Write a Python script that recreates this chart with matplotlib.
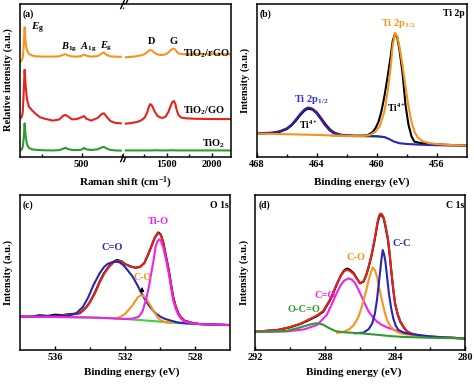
import matplotlib
matplotlib.use('Agg')
import matplotlib.pyplot as plt

plt.rcParams['font.family'] = ['Liberation Serif', 'DejaVu Serif']
plt.rcParams['font.weight'] = 'bold'
plt.rcParams['mathtext.fontset'] = 'custom'
plt.rcParams['mathtext.rm'] = 'Liberation Serif:bold'
plt.rcParams['mathtext.it'] = 'Liberation Serif:bold:italic'
plt.rcParams['mathtext.bf'] = 'Liberation Serif:bold'
plt.rcParams['axes.linewidth'] = 1.1

W, H = 474, 388

# ---------------- (a) Raman ----------------
ram_left_x = [115, 125, 132, 138, 144, 150, 158, 170, 190, 215, 240, 270, 320, 360, 385,
              399, 415, 440, 470, 500, 515, 530, 560, 600, 625, 639, 655, 680, 710, 745]
ram_left_tio2 = [4.5, 4.8, 6.5, 12, 22, 14, 8.5, 6.0, 5.0, 4.7, 4.5, 4.4, 4.3, 4.5, 5.4,
                 6.0, 5.2, 4.6, 4.5, 4.8, 5.9, 5.0, 4.6, 5.0, 6.2, 6.7, 5.6, 4.6, 4.3, 4.2]
ram_left_go = [25.3, 26, 29, 42, 57, 47, 38, 33, 30.5, 28, 26, 25, 23.8, 24.5, 27,
               27.5, 26.5, 24.6, 24.8, 26, 26.8, 25, 23.8, 25.5, 28, 28.6, 26.5, 23.5, 22.3, 22]
ram_left_rgo = [62.3, 63, 65, 72, 84.8, 75, 70, 67.5, 66.3, 65.8, 65.7, 65.6, 65.6, 65.8, 66.8,
                67.2, 66.4, 65.7, 65.6, 66, 67, 66.2, 65.6, 66, 67.6, 68.4, 66.8, 65.8, 65.6, 65.5]

ram_right_x = [1050, 1120, 1180, 1230, 1260, 1285, 1305, 1320, 1340, 1370, 1400, 1430, 1460, 1490,
               1520, 1545, 1565, 1580, 1595, 1610, 1630, 1660, 1710, 1800, 1900, 2050, 2210]
ram_right_tio2 = [4.3, 4.3, 4.3, 4.3, 4.3, 4.3, 4.3, 4.3, 4.3, 4.4, 4.4, 4.3, 4.3, 4.3,
                  4.3, 4.4, 4.4, 4.4, 4.3, 4.3, 4.3, 4.3, 4.3, 4.3, 4.3, 4.3, 4.3]
ram_right_go = [21.8, 22.3, 23, 24.3, 26, 29, 33, 34.6, 33.5, 29.5, 26.8, 25.8, 25.6, 26.5,
                29.5, 33.5, 36, 36.6, 35, 31, 27.5, 25.8, 25.3, 25, 24.9, 24.8, 24.8]
ram_right_rgo = [65.2, 65.5, 66, 66.6, 67.3, 68.5, 69.5, 69.9, 69.5, 68, 67, 66.7, 66.7, 67.2,
                 68.3, 69.8, 70.6, 70.8, 70.2, 69, 67.8, 67.3, 67.2, 67.2, 67.2, 67.2, 67.2]

# ---------------- (b) Ti 2p ----------------
ti_data_x = [468, 467, 466.5, 466, 465.7, 465.4, 465.1, 464.8, 464.6, 464.3, 464.0, 463.7, 463.4,
             463.1, 462.8, 462.4, 462, 461.5, 461, 460.6, 460.3, 460.1, 459.9, 459.7, 459.5, 459.3,
             459.1, 458.95, 458.8, 458.65, 458.5, 458.3, 458.1, 457.9, 457.7, 457.5, 457.2, 456.8,
             456, 455, 454]
ti_data_y = [15.4, 15.6, 16.4, 18.3, 20.6, 23.8, 27.6, 30.6, 31.6, 31.0, 28.5, 24.5, 20.5,
             17.2, 15.4, 14.3, 13.9, 13.7, 13.8, 14.4, 16.2, 18.8, 23.0, 30, 40, 52,
             65, 76, 80.6, 78, 70, 55, 34, 21, 13.5, 10, 9.3, 8.7,
             8.3, 7.8, 7.5]
ti_env_x = [468, 467, 466.5, 466, 465.7, 465.4, 465.1, 464.8, 464.6, 464.3, 464.0, 463.7, 463.4,
            463.1, 462.8, 462.4, 462, 461.5, 461]
ti_env_y = [15.6, 15.9, 16.8, 18.8, 21.2, 24.5, 28.3, 31.2, 32.2, 31.6, 29.2, 25.2, 21.2,
            17.8, 15.8, 14.6, 14.1, 13.9, 13.9]
ti_half_x = [468, 467.5, 467, 466.5, 466, 465.7, 465.4, 465.1, 464.8, 464.6, 464.4, 464.1, 463.8,
             463.5, 463.2, 462.9, 462.5, 462, 461, 460, 459.5, 459.2, 458.9, 458.5, 458, 457,
             456, 455, 454]
ti_half_y = [15.4, 15.5, 15.8, 16.6, 18.6, 21, 24.5, 28.3, 31.3, 32.3, 31.8, 29.5, 25.5,
             21.3, 17.8, 15.6, 14.4, 14.1, 13.8, 13.6, 13.0, 11.8, 10.2, 9.0, 8.5, 8.0,
             7.7, 7.5, 7.4]
ti_3half_x = [468, 466, 464, 462, 461, 460.5, 460.1, 459.8, 459.5, 459.3, 459.1, 458.95, 458.8,
              458.65, 458.5, 458.3, 458.1, 457.9, 457.7, 457.5, 457.3, 457, 456.6, 456, 455, 454]
ti_3half_y = [15.3, 14.9, 14.4, 13.8, 13.6, 14.3, 16.5, 20.5, 30, 42, 58, 73, 81.2,
              79, 72, 60, 46, 33, 23, 16.5, 13, 10.5, 9.2, 8.4, 7.8, 7.5]
ti_bg_x = [463, 462, 461, 460, 459.5]
ti_bg_y = [14.0, 13.7, 13.5, 13.3, 13.0]

# ---------------- (c) O 1s ----------------
o_data_x = [538, 537.4, 536.9, 536.4, 536, 535.6, 535.3, 534.9, 534.6, 534.4, 534.2, 534, 533.7,
            533.45, 533.2, 532.9, 532.65, 532.45, 532.2, 532, 531.7, 531.4, 531.15, 530.9, 530.7,
            530.5, 530.3, 530.1, 529.95, 529.8, 529.65, 529.5, 529.35, 529.25, 529.1, 528.95,
            528.8, 528.6, 528.2, 527.8, 527, 526]
o_data_y = [21.5, 21.3, 22.4, 22.0, 22.8, 22.5, 23.0, 23.4, 23.6, 25.5, 27.8, 31, 37.5,
            44.1, 49.5, 54.2, 57.0, 58.1, 57.2, 55.5, 54.0, 53.1, 53.6, 56.0, 61.0,
            66.7, 72.5, 75.9, 74.5, 68.8, 60, 51.6, 41, 34.4, 28, 23.7,
            21, 18.9, 17.6, 16.8, 16.4, 16.1]
o_env_y = [21.3, 21.4, 21.6, 21.8, 22.0, 22.3, 22.7, 23.2, 24, 25.5, 27.6, 30.8, 37,
           43.6, 49, 53.8, 56.6, 57.5, 57, 55.4, 53.8, 53, 53.5, 56, 61,
           66.5, 72.3, 75.5, 74.2, 68.5, 59.8, 51.4, 41, 34.3, 28, 23.6,
           21, 18.9, 17.6, 16.8, 16.4, 16.1]
o_co2_x = [538, 536, 535.3, 534.8, 534.4, 534.1, 533.8, 533.45, 533.2, 533, 532.75, 532.5, 532.3,
           532.1, 531.85, 531.56, 531.3, 531.1, 530.85, 530.65, 530.4, 530.2, 529.95, 529.7,
           529.3, 529, 528.5, 527.8, 527, 526]
o_co2_y = [21.5, 21.8, 22.0, 23.5, 27.9, 34, 41.9, 49.5, 53.5, 55.5, 56.6, 57.0, 56.5,
           54.8, 51.5, 47.3, 42, 37.6, 32.5, 29.0, 25.5, 23.2, 21.3, 20.0,
           18.7, 17.8, 17.2, 16.8, 16.4, 16.1]
o_co_x = [532.6, 532.3, 532, 531.8, 531.56, 531.4, 531.25, 531.1, 530.95, 530.8, 530.6, 530.4,
          530.2, 530.05, 529.7, 529.3]
o_co_y = [20.2, 21.2, 23.2, 25.8, 29, 31.8, 34.2, 35.3, 35.0, 33.3, 29.8, 25.8,
          22.2, 19.8, 17.8, 17.4]
o_tio_x = [538, 536, 534, 533, 532, 531.6, 531.2, 531, 530.8, 530.65, 530.5, 530.35, 530.25,
           530.15, 530.05, 529.95, 529.8, 529.65, 529.5, 529.35, 529.25, 529.1, 528.95, 528.8,
           528.6, 528.2, 527.8, 527, 526]
o_tio_y = [21.5, 21.3, 21.0, 20.6, 20.0, 20.2, 21.5, 25, 32.3, 40, 49.5, 59, 66.7,
           70, 71.4, 70.5, 65.6, 58, 49.5, 39, 32.3, 26.5, 22.6, 20.2,
           18.3, 17.3, 16.8, 16.4, 16.1]
o_bg_x = [538, 535, 533, 532, 531, 530, 529, 528, 527, 526]
o_bg_y = [21.5, 21.2, 20.6, 20.0, 19.2, 18.3, 17.4, 16.8, 16.4, 16.1]

# ---------------- (d) C 1s ----------------
c_data_x = [292, 290.7, 290, 289.4, 288.9, 288.46, 288.1, 287.7, 287.3, 287.1, 286.93, 286.8,
            286.7, 286.55, 286.36, 286.2, 286.0, 285.8, 285.65, 285.5, 285.35, 285.2, 285.1,
            285.0, 284.92, 284.84, 284.75, 284.65, 284.55, 284.4, 284.3, 284.2, 284.1, 284.0,
            283.85, 283.7, 283.5, 283.3, 283, 282.55, 281.6, 280]
c_data_y = [11.8, 12.9, 14.6, 16.8, 19.4, 21.9, 24.7, 32.3, 43.0, 48, 51, 52.3,
            52.5, 51.5, 49.5, 46.5, 43.0, 44.1, 48, 53.8, 60.5, 68.8, 75,
            81.7, 85.3, 87.1, 86.8, 85, 80, 71.0, 61, 49.5, 39, 30.1,
            23, 18.3, 14.5, 11.8, 10.2, 9.0, 8.2, 7.5]
c_env_y = [11.8, 13.0, 14.8, 17.0, 19.8, 22.3, 25.2, 32.8, 43.2, 47.8, 50.5, 51.5,
           51.6, 50.8, 49, 46.2, 43.3, 44.3, 48.2, 54, 60.8, 69.2, 75.6,
           82.5, 86.3, 88.0, 87.6, 85.6, 80.5, 71.5, 61.5, 50, 39.5, 30.6,
           23.4, 18.6, 14.8, 12, 10.4, 9.1, 8.2, 7.5]
c_co2_x = [292, 290.2, 289.2, 288.46, 287.9, 287.5, 287.3, 287.1, 286.9, 286.65, 286.45, 286.27,
           286.1, 285.9, 285.7, 285.5, 285.25, 285.03, 284.75, 284.46, 284, 283.5, 282.4, 281, 280]
c_co2_y = [11.8, 12.0, 13.3, 16.1, 22.6, 32.3, 37.5, 41.9, 44.8, 46.2, 45.3, 43.0,
           39.2, 34.4, 29.3, 24.7, 21, 18.3, 16.2, 14.6, 12.8, 11.2, 9.0, 8.0, 7.5]
c_co_x = [287.3, 286.93, 286.6, 286.36, 286.1, 285.9, 285.7, 285.5, 285.38, 285.26, 285.15,
          285.03, 284.9, 284.75, 284.6, 284.46, 284.25, 284.07, 283.8, 283.5, 282.5, 281, 280]
c_co_y = [11.0, 11.8, 13.5, 16.1, 21, 27.9, 36, 45.2, 50, 53.3, 51.5,
          47.3, 40, 32.3, 25, 19.4, 15.2, 12.9, 11.2, 10.3, 9.0, 8.0, 7.5]
c_cc_x = [286.3, 285.8, 285.5, 285.3, 285.15, 285.03, 284.93, 284.84, 284.77, 284.7, 284.62,
          284.55, 284.45, 284.35, 284.22, 284.1, 283.95, 283.8, 283.5, 283.1, 282, 281, 280]
c_cc_y = [10.8, 11.2, 13.5, 17.2, 23.5, 32.3, 42.5, 51.6, 59, 64.5, 61.5,
          57, 47, 36.6, 27, 20.4, 15.5, 12.9, 11.2, 10.3, 8.8, 8.0, 7.5]
c_occo_x = [292, 291, 290.2, 289.6, 289.2, 288.9, 288.6, 288.4, 288.1, 287.8, 287.4, 287, 286,
            285, 284.3, 283.5, 282, 280]
c_occo_y = [11.8, 11.8, 12.3, 14.0, 15.3, 16.3, 17.1, 17.2, 16.3, 14.3, 12.2, 11.5, 10.8,
            9.8, 9.0, 8.4, 7.9, 7.5]

ORANGE = '#F7941D'
RED = '#E5231B'
GREEN = '#2F9B2F'
BLUE = '#2626B4'
MAGENTA = '#EE22EE'
LGREEN = '#3FCF3F'
LW = 1.5

fig = plt.figure(figsize=(W / 100, H / 100), dpi=100)


def box(l, t, w, h):
    return [l / W, 1 - (t + h) / H, w / W, h / H]


def txt(px, py, s, size=7.5, color='black', ha='center', va='center', **kw):
    fig.text(px / W, 1 - py / H, s, fontsize=size, color=color, ha=ha, va=va,
             fontweight='bold', **kw)


def setup(ax, xlim, major, minor):
    ax.set_xlim(*xlim)
    ax.set_ylim(0, 100)
    ax.set_yticks([])
    ax.set_xticks(major)
    ax.set_xticks(minor, minor=True)
    ax.tick_params(axis='x', which='major', direction='in', length=3, width=1,
                   pad=2.5, labelsize=7.5)
    ax.tick_params(axis='x', which='minor', direction='in', length=2, width=1)


ax_a1 = fig.add_axes(box(20, 4, 104, 153))
ax_a2 = fig.add_axes(box(124, 4, 107, 153))
ax_b = fig.add_axes(box(257, 4, 210, 153))
ax_c = fig.add_axes(box(20, 195, 210, 155))
ax_d = fig.add_axes(box(255, 195, 210, 155))

# (a)
setup(ax_a1, (115, 765), [500], [250, 750])
setup(ax_a2, (1030, 2210), [1500, 2000], [1250, 1750])
ax_a1.spines['right'].set_visible(False)
ax_a2.spines['left'].set_visible(False)
ax_a1.plot(ram_left_x, ram_left_tio2, color=GREEN, lw=LW)
ax_a1.plot(ram_left_x, ram_left_go, color=RED, lw=LW)
ax_a1.plot(ram_left_x, ram_left_rgo, color=ORANGE, lw=LW)
ax_a2.plot(ram_right_x, ram_right_tio2, color=GREEN, lw=LW)
ax_a2.plot(ram_right_x, ram_right_go, color=RED, lw=LW)
ax_a2.plot(ram_right_x, ram_right_rgo, color=ORANGE, lw=LW)
# break marks
for yb in (0, 1):
    for dx in (-0.012, 0.018):
        ax_a1.plot([1 + dx - 0.02, 1 + dx + 0.02], [yb - 0.03, yb + 0.03],
                   transform=ax_a1.transAxes, color='black', lw=1, clip_on=False)

txt(23, 14, '(a)', size=7, ha='left')
txt(31, 28, r'$\mathit{E}_\mathrm{g}$', size=8, ha='left')
txt(69, 47, r'$\mathit{B}_\mathrm{1g}$', size=7.5)
txt(88, 47, r'$\mathit{A}_\mathrm{1g}$', size=7.5)
txt(106, 46, r'$\mathit{E}_\mathrm{g}$', size=7.5)
txt(152, 42, 'D', size=7.5)
txt(174, 41, 'G', size=7.5)
txt(230, 54, r'TiO$_2$/rGO', size=7.5, ha='right')
txt(225, 111, r'TiO$_2$/GO', size=7.5, ha='right')
txt(225, 144, r'TiO$_2$', size=7.5, ha='right')
txt(126, 183, r'Raman shift (cm$^{-1}$)', size=8)
txt(8, 80, 'Relative intensity (a.u.)', size=7.5, rotation=90)

# (b)
setup(ax_b, (468, 454), [468, 464, 460, 456], [466, 462, 458])
ax_b.plot(ti_env_x, ti_env_y, color=RED, lw=LW)
ax_b.plot(ti_data_x, ti_data_y, color='black', lw=LW)
ax_b.plot(ti_bg_x, ti_bg_y, color=LGREEN, lw=LW)
ax_b.plot(ti_half_x, ti_half_y, color=BLUE, lw=LW)
ax_b.plot(ti_3half_x, ti_3half_y, color=ORANGE, lw=LW)
txt(260, 14, '(b)', size=7, ha='left')
txt(465, 14, 'Ti 2p', size=7, ha='right')
txt(398, 23, r'Ti 2p$_{3/2}$', size=7.5, color=ORANGE)
txt(311, 99, r'Ti 2p$_{1/2}$', size=7.5, color='#3333CC')
txt(309, 125, r'Ti$^{4+}$', size=7)
txt(397, 108, r'Ti$^{4+}$', size=7)
txt(362, 182, 'Binding energy (eV)', size=8)
txt(245, 80, 'Intensity (a.u.)', size=7.5, rotation=90)

# (c)
setup(ax_c, (538, 526), [536, 532, 528], [534, 530])
ax_c.plot(o_data_x, o_data_y, color='black', lw=LW)
ax_c.plot(o_data_x, o_env_y, color=RED, lw=LW)
ax_c.plot(o_bg_x, o_bg_y, color=LGREEN, lw=LW)
ax_c.plot(o_co2_x, o_co2_y, color=BLUE, lw=LW)
ax_c.plot(o_co_x, o_co_y, color=ORANGE, lw=LW)
ax_c.plot(o_tio_x, o_tio_y, color=MAGENTA, lw=LW)
txt(23, 205, '(c)', size=7, ha='left')
txt(229, 205, 'O 1s', size=7, ha='right')
txt(112, 248, 'C=O', size=7.5, color=BLUE)
txt(142, 278, 'C-O', size=7, color=ORANGE)
txt(158, 222, 'Ti-O', size=7.5, color=MAGENTA)
fig.add_artist(matplotlib.patches.FancyArrowPatch(
    (142 / W, 1 - 294 / H), (142 / W, 1 - 284 / H), transform=fig.transFigure,
    arrowstyle='-|>', mutation_scale=6, color='black', lw=0.9))
txt(132, 372, 'Binding energy (eV)', size=8)
txt(8, 272, 'Intensity (a.u.)', size=7.5, rotation=90)

# (d)
setup(ax_d, (292, 280), [292, 288, 284, 280], [290, 286, 282])
ax_d.plot(c_data_x, c_data_y, color='black', lw=LW)
ax_d.plot(c_data_x, c_env_y, color=RED, lw=LW)
ax_d.plot(c_co2_x, c_co2_y, color=MAGENTA, lw=LW)
ax_d.plot(c_co_x, c_co_y, color=ORANGE, lw=LW)
ax_d.plot(c_cc_x, c_cc_y, color=BLUE, lw=LW)
ax_d.plot(c_occo_x, c_occo_y, color=GREEN, lw=LW)
txt(259, 205, '(d)', size=7, ha='left')
txt(464, 205, 'C 1s', size=7, ha='right')
txt(402, 243, 'C-C', size=7.5, color=BLUE)
txt(356, 258, 'C-O', size=7.5, color=ORANGE)
txt(325, 296, 'C=O', size=7.5, color=MAGENTA)
txt(304, 309, 'O-C=O', size=7.5, color=GREEN)
txt(354, 372, 'Binding energy (eV)', size=8)
txt(244, 272, 'Intensity (a.u.)', size=7.5, rotation=90)

fig.savefig('out.png', dpi=100)
